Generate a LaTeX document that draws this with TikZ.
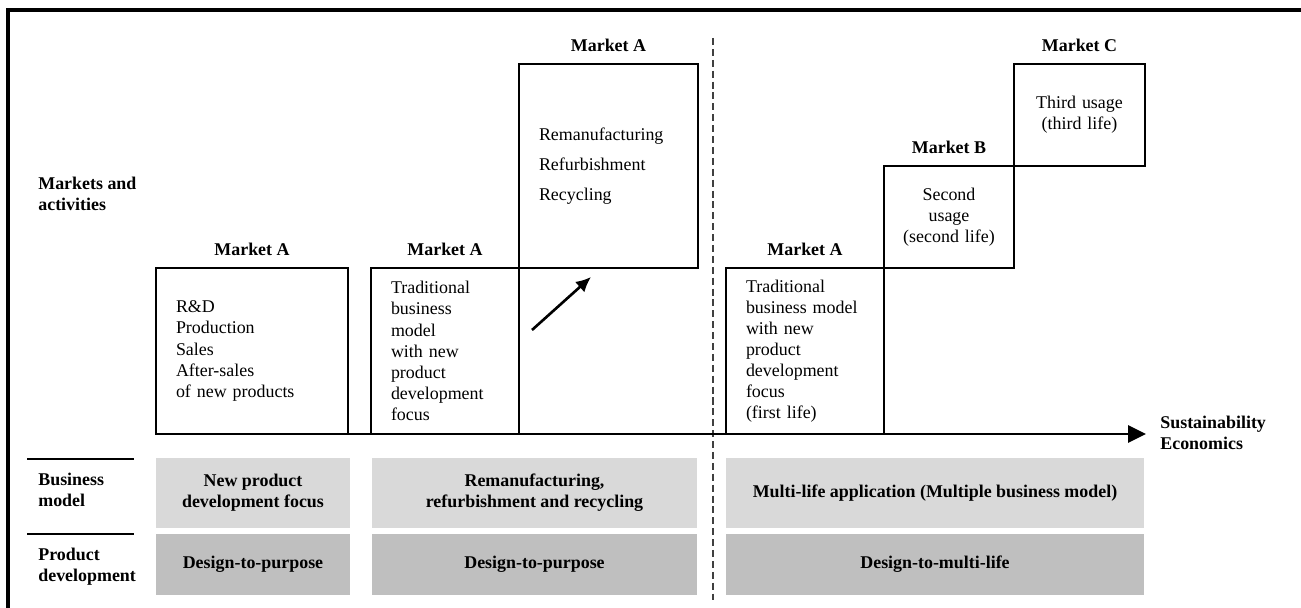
\documentclass[tikz,border=0pt]{standalone}
\usepackage{fontspec}
\setmainfont{Liberation Serif}
\usetikzlibrary{arrows.meta, positioning}

\begin{document}
\begin{tikzpicture}[x=0.02cm, y=-0.02cm,
    every node/.style={font=\fontsize{10.2}{12}\selectfont, inner sep=0pt},
    lifebox/.style={draw, line width=1.6pt, inner xsep=0.4cm, align=left},
    mlabel/.style={font=\fontsize{10.2}{12}\selectfont\bfseries},
    rowhead/.style={font=\fontsize{10.2}{12}\selectfont\bfseries, anchor=west, align=left},
    bmcell/.style={fill=black!15, font=\fontsize{10.2}{12}\selectfont\bfseries, align=center, minimum height=1.4cm},
    pdcell/.style={fill=black!25, font=\fontsize{10.2}{12}\selectfont\bfseries, align=center, minimum height=1.22cm}]

        \useasboundingbox (0,0) rectangle (1301,608);

        % frame (only top and left edges show)
        \draw[line width=2.2pt] (8,608) -- (8,10) -- (1301,10);

        % separator between single life and multi-life
        \coordinate (dtop) at (713,38);
        \coordinate (dbot) at (713,600);
        \draw[black!75, line width=0.6pt, dash pattern=on 4pt off 2.2pt] (dtop) -- (dbot);

        % row headings
        \node[rowhead] (hmarket) at (38,194) {Markets and\\activities};
        \node[rowhead] (hbm) at (38,490) {Business\\model};
        \node[rowhead] (hpd) at (38,567) {Product\\development};
        \draw[line width=0.9pt] (27,459) -- (134,459);
        \draw[line width=0.9pt] (27,534) -- (134,534);

        % activity boxes
        \node[lifebox, text width=3.04cm, minimum height=3.32cm] (m1) at (252,351)
            {R\&D\\Production\\Sales\\After-sales\\of new products};
        \node[lifebox, text width=2.16cm, minimum height=3.32cm] (m2) at (445,351)
            {Traditional\\business\\model\\with new\\product\\development\\focus};
        \node[lifebox, text width=2.78cm, minimum height=4.08cm] (m3) at (608.5,166)
            {Remanufacturing\\[5pt]Refurbishment\\[5pt]Recycling};
        \node[lifebox, text width=2.36cm, minimum height=3.32cm] (m4) at (805,351)
            {Traditional\\business model\\with new\\product\\development\\focus\\(first life)};
        \node[lifebox, align=center, inner xsep=0.1cm, text width=2.4cm, minimum height=2.04cm] (m5) at (949,217)
            {Second\\usage\\(second life)};
        \node[lifebox, align=center, inner xsep=0.1cm, text width=2.42cm, minimum height=2.04cm] (m6) at (1079.5,115)
            {Third usage\\(third life)};

        % market names
        \node[mlabel, above=0.22cm of m1] (lm1) {Market A};
        \node[mlabel, above=0.22cm of m2] (lm2) {Market A};
        \node[mlabel, above=0.22cm of m3] (lm3) {Market A};
        \node[mlabel, above=0.22cm of m4] (lm4) {Market A};
        \node[mlabel, above=0.22cm of m5] (lm5) {Market B};
        \node[mlabel, above=0.22cm of m6] (lm6) {Market C};

        % step up to remanufacturing
        \coordinate (up0) at (532,330);
        \coordinate (up1) at (591,277);
        \draw[line width=1.5pt, -{Latex[length=0.3cm, width=0.28cm]}] (up0) -- (up1);

        % horizontal axis
        \coordinate (origin) at (155,434);
        \coordinate (xend) at (1146,434);
        \draw[line width=1.7pt, -{Triangle[length=0.36cm, width=0.34cm]}] (origin) -- (xend);
        \node[rowhead] (xlabel) at (1160,433) {Sustainability\\Economics};

        % business model row
        \node[bmcell, minimum width=3.88cm] (bm1) at (253,493) {New product\\development focus};
        \node[bmcell, minimum width=6.5cm] (bm2) at (534.5,493) {Remanufacturing,\\refurbishment and recycling};
        \node[bmcell, minimum width=8.36cm] (bm3) at (935,493) {Multi-life application (Multiple business model)};

        % product development row
        \node[pdcell, minimum width=3.88cm] (pd1) at (253,564.5) {Design-to-purpose};
        \node[pdcell, minimum width=6.5cm] (pd2) at (534.5,564.5) {Design-to-purpose};
        \node[pdcell, minimum width=8.36cm] (pd3) at (935,564.5) {Design-to-multi-life};

\end{tikzpicture}
\end{document}
